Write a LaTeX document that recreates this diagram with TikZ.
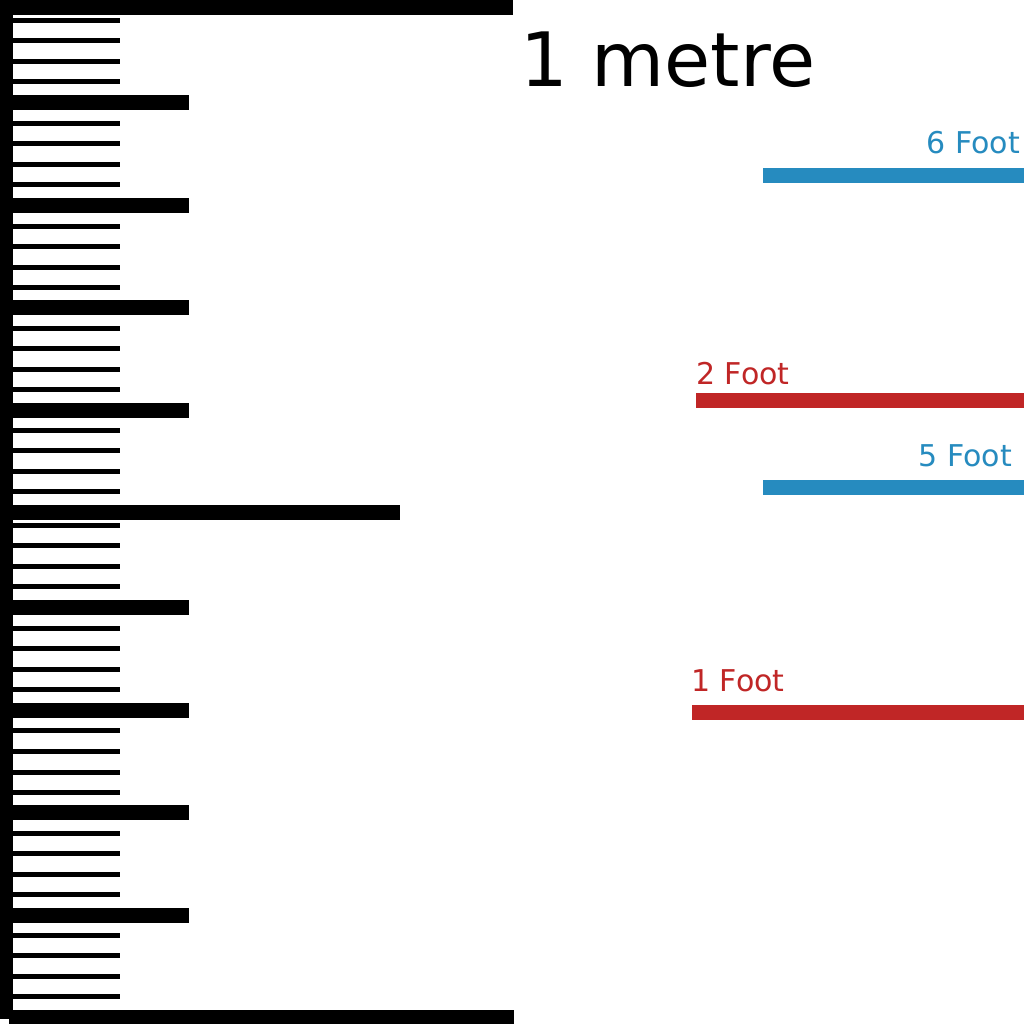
\documentclass[tikz,border=0pt]{standalone}
\usepackage{fontspec}
\setmainfont{DejaVu Sans}
\definecolor{footred}{RGB}{192,38,38}
\definecolor{footblue}{RGB}{38,139,191}
\tikzset{
  lbl/.style={inner sep=0pt, font=\fontsize{30}{30}\selectfont},
}
\begin{document}
\begin{tikzpicture}[x=1pt,y=-1pt]
\useasboundingbox[fill=white] (0,0) rectangle (1024,1024);
% ruler frame
\fill[black] (0,0) rectangle (513,15);
\fill[black] (0,0) rectangle (13,1019);
\fill[black] (9,1010) rectangle (514,1024);
% small ticks
\foreach \t in {18,38,59,79,121,141,162,182,224,244,265,285,326,346,367,387,428,448,469,489,523,543,564,584,626,646,667,687,728,749,770,790,831,851,872,892,933,953,974,994}
  \fill[black] (13,\t) rectangle (120,\t+5);
% medium ticks
\foreach \t in {95,198,300,403,600,703,805,908}
  \fill[black] (13,\t) rectangle (189,\t+15);
% long tick
\fill[black] (13,505) rectangle (400,520);
% title
\node[inner sep=0pt, anchor=base west, font=\fontsize{75}{75}\selectfont] (metre) at (520,87) {1 metre};
% foot bars
\fill[footblue] (763,168) rectangle (1024,183);
\node[lbl, anchor=base east, text=footblue] (six) at (1020,154) {6 Foot};
\fill[footred] (696,393) rectangle (1024,408);
\node[lbl, anchor=base west, text=footred] (two) at (696,384) {2 Foot};
\fill[footblue] (763,480) rectangle (1024,495);
\node[lbl, anchor=base east, text=footblue] (five) at (1012,466) {5 Foot};
\fill[footred] (692,705) rectangle (1024,720);
\node[lbl, anchor=base west, text=footred] (one) at (691,691) {1 Foot};
\end{tikzpicture}
\end{document}
